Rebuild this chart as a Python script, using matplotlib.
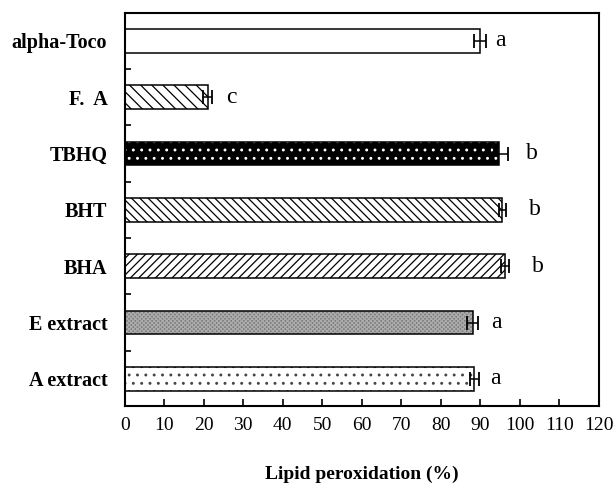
import matplotlib
matplotlib.use("Agg")
import matplotlib.pyplot as plt
import numpy as np

# bottom to top, as drawn
SAMPLES = ["A extract", "E extract", "BHA", "BHT", "TBHQ", "F.  A", "alpha-Toco"]
PEROX = [88.5, 88.0, 96.3, 95.5, 94.6, 21.0, 90.0]
ERRS = [1.1, 1.5, 1.0, 0.9, 2.3, 1.1, 1.5]
GROUPS = ["a", "a", "b", "b", "b", "c", "a"]
GROUP_X = [93.7, 94.1, 104.6, 103.8, 102.9, 27.1, 95.1]

FACES = ["white", "#7a7a7a", "white", "white", "black", "white", "white"]
HATCHES = ["..", "xxxxxxxx", "////", "\\\\\\\\", "..", "\\\\\\", None]
HATCH_COLORS = ["#444444", "#acacac", "black", "black", "white", "black", "black"]

plt.rcParams["font.family"] = ["Liberation Serif", "DejaVu Serif"]
plt.rcParams["hatch.linewidth"] = 0.9

fig = plt.figure(figsize=(6.16, 4.92), dpi=100)
ax = fig.add_axes([0.2024, 0.1748, 0.7700, 0.7982])

y = np.arange(len(SAMPLES))
h = 0.42

# fill + hatch first (edge colour drives hatch colour), then black outline
for yi, v, fc, hp, hc in zip(y, PEROX, FACES, HATCHES, HATCH_COLORS):
    ax.barh(yi, v, h, color=fc, hatch=hp, edgecolor=hc, linewidth=0)
ax.barh(y, PEROX, h, fill=False, edgecolor="black", linewidth=1.1)

ax.errorbar(PEROX, y, xerr=ERRS, fmt="none", ecolor="black",
            elinewidth=1.1, capsize=5, capthick=1.3)

for yi, gx, g in zip(y, GROUP_X, GROUPS):
    ax.text(gx, yi, g, ha="center", va="center", fontsize=17)

ax.set_xlim(0, 120)
ax.set_ylim(-0.48, 6.49)
ax.set_xticks(np.arange(0, 121, 10))
ax.set_yticks(y)
ax.set_yticklabels(SAMPLES, fontweight="bold", fontsize=14.5)
ax.set_yticks(y[:-1] + 0.5, minor=True)
ax.tick_params(axis="y", which="major", length=0, pad=12.5)
ax.tick_params(axis="y", which="minor", direction="in", length=4, width=1.2)
ax.tick_params(axis="x", direction="in", length=5, width=1.2, pad=8, labelsize=14)
ax.set_xlabel("Lipid peroxidation (%)", fontweight="bold", fontsize=14, labelpad=23)

for s in ax.spines.values():
    s.set_linewidth(1.5)

fig.savefig("out.png", dpi=100)
